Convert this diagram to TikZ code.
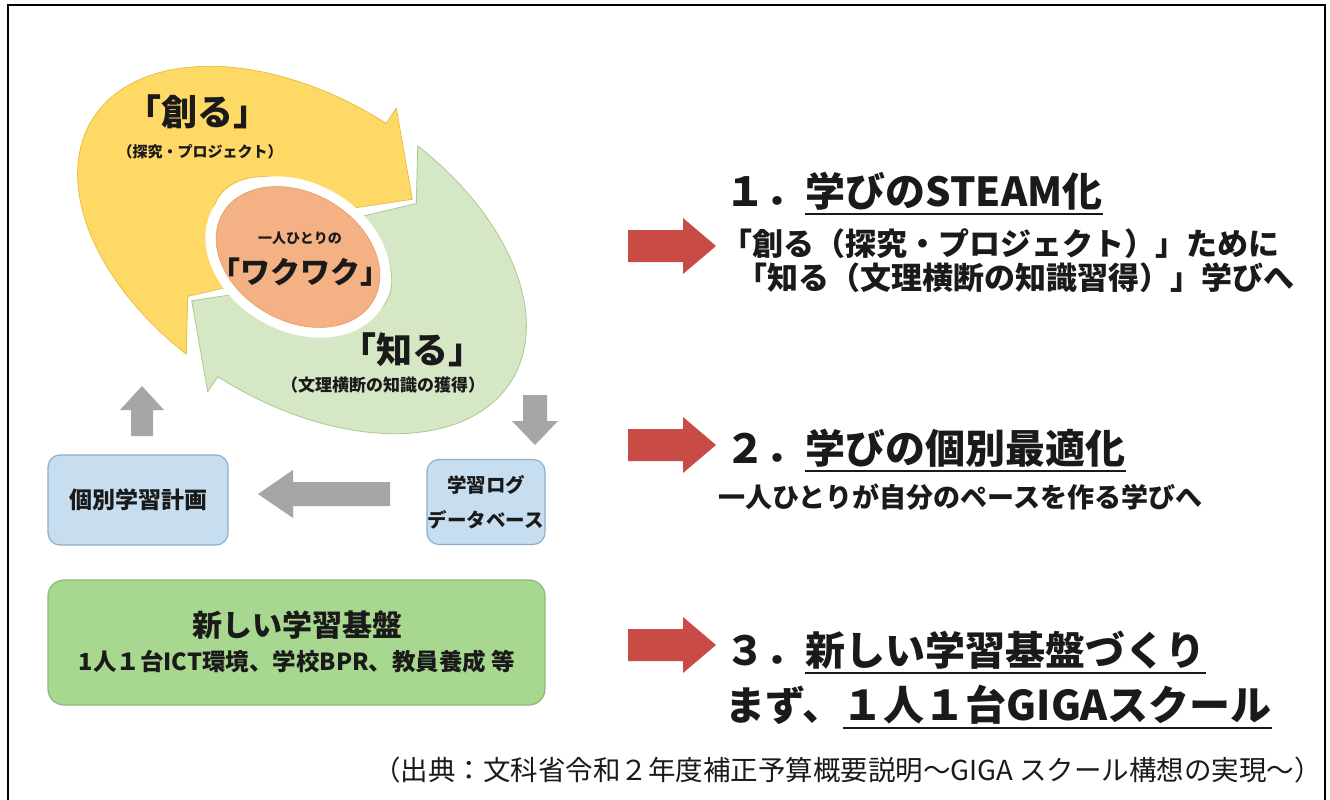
\documentclass[tikz,border=0pt]{standalone}
\usepackage{fontspec}
\setmainfont{Noto Sans CJK JP}
\usetikzlibrary{shapes.geometric}
\definecolor{yelF}{HTML}{FFD966}
\definecolor{yelD}{HTML}{E9BE45}
\definecolor{grnF}{HTML}{D5E7C4}
\definecolor{grnD}{HTML}{A9C993}
\definecolor{orgF}{HTML}{F4B183}
\definecolor{orgD}{HTML}{E39A69}
\definecolor{grayA}{HTML}{A6A6A6}
\definecolor{blueF}{HTML}{C6DEF0}
\definecolor{blueD}{HTML}{8FAEC8}
\definecolor{gboxF}{HTML}{A8D88F}
\definecolor{gboxD}{HTML}{88BC74}
\definecolor{redA}{HTML}{C94B46}
\definecolor{txt}{HTML}{1A1A1A}
\begin{document}
\begin{tikzpicture}[x=1pt,y=-1pt,
  every node/.style={inner sep=0pt, text=txt},
  bf/.style={font=\bfseries\fontsize{#1}{#1}\selectfont},
  rg/.style={font=\fontsize{#1}{#1}\selectfont},
  bluebox/.style={draw=blueD, fill=blueF, line width=1.2pt, rounded corners=12pt, align=center},
  grnbox/.style={draw=gboxD, fill=gboxF, line width=1.2pt, rounded corners=16pt},
  grayarr/.style={fill=grayA},
  redarr/.style={fill=redA},
  uline/.style={line width=2pt, draw=txt}]
\useasboundingbox (0,0) rectangle (1330,800);
\fill[white] (0,0) rectangle (1330,800);
\draw[line width=2pt] (8,800) -- (8,5) -- (1325,5) -- (1325,800);

% ---- cycle of two arrows ----
\begin{scope}[shift={(302,250)}, rotate=-32, x=247pt, y=152pt]
  \filldraw[fill=yelF, draw=yelD, line width=0.8pt, line join=round]
    (260:1) -- plot[domain=260:89, samples=80] (\x:1) -- (89:1.12) -- (68:0.72) -- (89:0.30)
    -- plot[domain=89:252, samples=50] (\x:0.40) -- (246:0.72) -- cycle;
  \filldraw[fill=grnF, draw=grnD, line width=0.8pt, line join=round]
    (80:1) -- plot[domain=80:-91, samples=80] (\x:1) -- (-91:1.12) -- (-112:0.72) -- (-91:0.30)
    -- plot[domain=-91:72, samples=50] (\x:0.40) -- (66:0.72) -- cycle;
\end{scope}
\node[ellipse, fill=white, minimum width=196pt, minimum height=148pt, rotate=-30] (halo) at (298,257) {};
\node[ellipse, fill=orgF, draw=orgD, line width=0.6pt, minimum width=174pt, minimum height=128pt, rotate=-30] (waku) at (298,257) {};

\node[bf=36] (tsukuru) at (197,112) {「創る」};
\node[bf=15] (tsukurusub) at (200,152) {（探究・プロジェクト）};
\node[bf=14] (waku1) at (300,238) {一人ひとりの};
\node[bf=30] (waku2) at (300,272) {「ワクワク」};
\node[bf=36] (shiru) at (412,350) {「知る」};
\node[bf=17] (shirusub) at (383,385) {（文理横断の知識の獲得）};

% ---- gray arrows ----
\fill[grayarr] (131,436) -- (131,410) -- (120,410) -- (142,386) -- (164,410) -- (153,410) -- (153,436) -- cycle;
\fill[grayarr] (523,395) -- (523,421) -- (512,421) -- (535,445) -- (558,421) -- (547,421) -- (547,395) -- cycle;
\fill[grayarr] (390,482) -- (293,482) -- (293,470) -- (258,494) -- (293,518) -- (293,506) -- (390,506) -- cycle;

% ---- boxes ----
\node[bluebox, minimum width=180pt, minimum height=90pt, bf=23] (plan) at (138,500) {個別学習計画};
\node[bluebox, minimum width=118pt, minimum height=85pt, font=\bfseries\fontsize{19.5}{35}\selectfont] (log) at (486,502) {学習ログ\\データベース};
\node[grnbox, minimum width=497pt, minimum height=125pt] (base) at (296.5,642.5) {};
\node[bf=30] (baseT) at (297,625) {新しい学習基盤};
\node[bf=23.5] (baseS) at (297,662) {1人１台ICT環境、学校BPR、教員養成 等};

% ---- red arrows ----
\foreach \yy/\nm in {246/r1, 445/r2, 645/r3}{
  \fill[redarr] (628,\yy-16) -- (683,\yy-16) -- (683,\yy-28) -- (716,\yy) -- (683,\yy+28) -- (683,\yy+16) -- (628,\yy+16) -- cycle;
}

% ---- right texts ----
\node[bf=40, anchor=base west] (h1a) at (725,206) {１．};
\node[bf=40, anchor=base west] (h1b) at (h1a.base east) {学びのSTEAM化};
\draw[uline] ([yshift=-8pt]h1b.base west) -- ([yshift=-8pt]h1b.base east);
\node[bf=31, anchor=base west] (l1a) at (721,255) {「創る（探究・プロジェクト）」ために};
\node[bf=31, anchor=base west] (l1b) at (736,289) {「知る（文理横断の知識習得）」学びへ};

\node[bf=40, anchor=base west] (h2a) at (725,463) {２．};
\node[bf=40, anchor=base west] (h2b) at (h2a.base east) {学びの個別最適化};
\draw[uline] ([yshift=-8pt]h2b.base west) -- ([yshift=-8pt]h2b.base east);
\node[bf=27, anchor=base west] (l2) at (718,507) {一人ひとりが自分のペースを作る学びへ};

\node[bf=40, anchor=base west] (h3a) at (725,665) {３．};
\node[bf=40, anchor=base west] (h3b) at (h3a.base east) {新しい学習基盤づくり};
\draw[uline] ([yshift=-8pt]h3b.base west) -- ([yshift=-8pt]h3b.base east);
\node[bf=40, anchor=base west] (l3a) at (725,720) {まず、};
\node[bf=41, anchor=base west] (l3b) at (l3a.base east) {１人１台GIGAスクール};
\draw[uline] ([yshift=-8pt]l3b.base west) -- ([yshift=-8pt]l3b.base east);

% ---- source ----
\node[rg=27.5, anchor=base east] (src) at (1322,780) {（出典：文科省令和２年度補正予算概要説明〜GIGA スクール構想の実現〜）};
\end{tikzpicture}
\end{document}
